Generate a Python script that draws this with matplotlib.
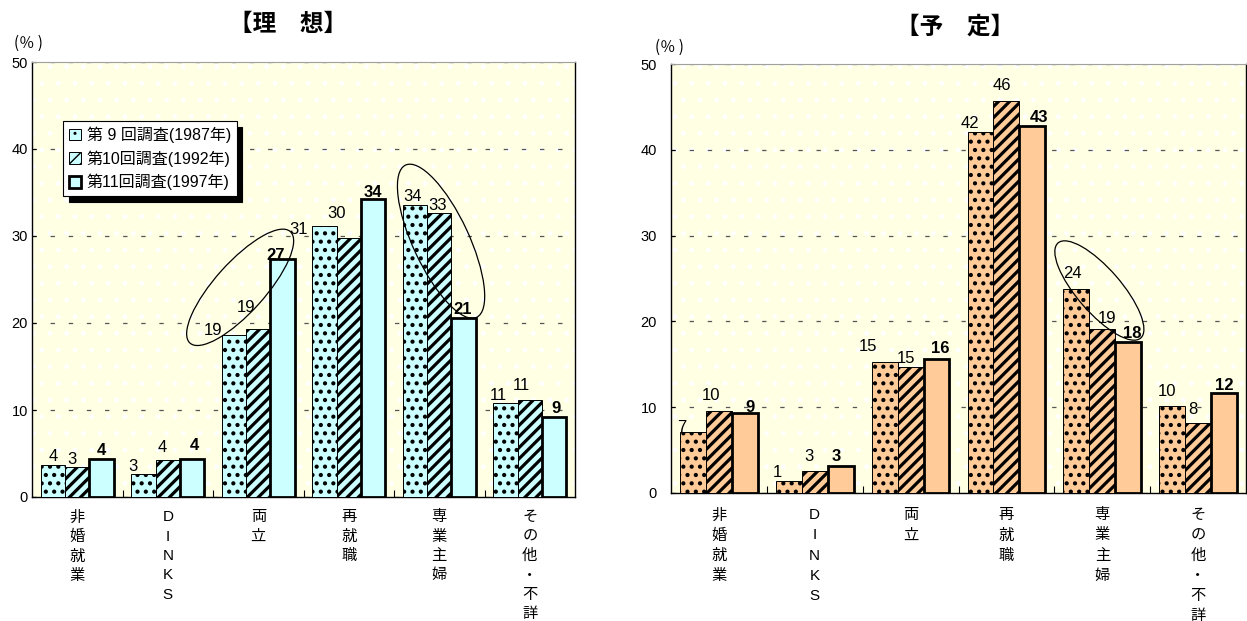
import matplotlib
matplotlib.use("Agg")
import matplotlib.pyplot as plt
from matplotlib.patches import Ellipse, Patch, Rectangle
from matplotlib.transforms import ScaledTranslation
import numpy as np

# ---------------- data ----------------
categories = ["非婚就業", "DINKS", "両立", "再就職", "専業主婦", "その他・不詳"]
series_names = ["第 9 回調査(1987年)", "第10回調査(1992年)", "第11回調査(1997年)"]

ideal_1987 = [3.7, 2.6, 18.6, 31.1, 33.6, 10.8]
ideal_1992 = [3.4, 4.2, 19.3, 29.8, 32.6, 11.1]
ideal_1997 = [4.4, 4.4, 27.3, 34.3, 20.6, 9.2]

plan_1987 = [7.1, 1.4, 15.3, 42.1, 23.8, 10.1]
plan_1992 = [9.6, 2.6, 14.7, 45.7, 19.1, 8.2]
plan_1997 = [9.3, 3.1, 15.6, 42.8, 17.6, 11.6]

y_ticks = [0, 10, 20, 30, 40, 50]
title_ideal = "【理　想】"
title_plan = "【予　定】"
unit_label = "(％ )"

# ---------------- style / layout ----------------
W, H, DPI = 1247, 621, 100
BG = "#FFFFE4"
COL_IDEAL = "#CCFFFF"
COL_PLAN = "#FFCC99"
NUMFONT = ["Liberation Sans", "Noto Sans CJK JP"]
JPFONT = ["Noto Sans CJK JP", "Liberation Sans"]

# label nudges in pixels (dx right, dy down) relative to centred-above-bar
ideal_nudges = [
    [(0, 0), (-10, 0), (-21, 3), (-26, 11), (-2, 0), (-7, 0)],
    [(-5, 0), (-6, -5), (-12, -14), (-12, -16), (-2, 0), (-8, -7)],
    [(0, 0), (2, -5), (-7, 4), (0, 2), (-1, 0), (2, 0)],
]
plan_nudges = [
    [(-11, 3), (-11, 0), (-17, -7), (-11, 0), (-4, -7), (-5, -7)],
    [(-8, -7), (-6, -6), (-5, 0), (-5, -7), (5, -3), (-5, -5)],
    [(5, 2), (-4, -2), (4, -3), (7, 0), (4, 0), (0, 0)],
]

fig = plt.figure(figsize=(W / DPI, H / DPI), dpi=DPI)
fig.patch.set_facecolor("white")


def px_rect(x0, x1, ytop, ybot):
    return [x0 / W, 1 - ybot / H, (x1 - x0) / W, (ybot - ytop) / H]


ax1 = fig.add_axes(px_rect(32, 575, 62, 497))
ax2 = fig.add_axes(px_rect(671, 1246, 64, 493))

styles = [
    dict(hatch="..", lw=0.7, hlw=1.8),
    dict(hatch="///", lw=0.7, hlw=2.3),
    dict(hatch=None, lw=2.0, hlw=1.0),
]


def draw_panel(ax, series, color, nudges, ypad, cat_offset, cat_spacing):
    ax.set_facecolor(BG)
    ax.add_patch(Rectangle((0, 0), 1, 1, transform=ax.transAxes, facecolor=BG,
                           edgecolor="white", hatch=".", lw=0, zorder=0))
    x = np.arange(len(categories))
    w = 0.27
    for k, vals in enumerate(series):
        st = styles[k]
        with plt.rc_context({"hatch.linewidth": st["hlw"]}):
            bars = ax.bar(x + (k - 1) * w, vals, w, color=color, edgecolor="black",
                          linewidth=st["lw"], hatch=st["hatch"], zorder=3)
        for b, v, (dx, dy) in zip(bars, vals, nudges[k]):
            ax.annotate(f"{v:.0f}", xy=(b.get_x() + b.get_width() / 2, v),
                        xytext=(dx * 0.72, (8 - dy) * 0.72), textcoords="offset points",
                        ha="center", va="center", fontsize=12, family=NUMFONT,
                        fontweight="bold" if k == 2 else "normal", zorder=6)
    ax.set_xlim(-0.5, len(categories) - 0.5)
    ax.set_ylim(0, 50)
    ax.set_yticks(y_ticks)
    ax.set_yticklabels([str(t) for t in y_ticks], fontsize=10.5, family=NUMFONT)
    ax.tick_params(axis="y", direction="in", length=3, pad=ypad, width=0.8)
    ax.set_xticks([])
    ax.set_xticks(np.arange(len(categories) - 1) + 0.5, minor=True)
    ax.tick_params(axis="x", which="minor", direction="in", length=5, width=0.8)
    ax.yaxis.grid(True, linestyle=(0, (3.5, 11)), color="#555555", lw=0.9)
    ax.set_axisbelow(True)
    for s in ("left", "bottom", "right"):
        ax.spines[s].set_color("black")
        ax.spines[s].set_linewidth(1.0)
    ax.spines["top"].set_color("#A0A0A0")
    ax.spines["top"].set_linewidth(0.8)
    for i, cat in enumerate(categories):
        ax.annotate("\n".join(cat), xy=(i, 0), xycoords=("data", "axes fraction"),
                    xytext=(0, cat_offset), textcoords="offset points", ha="center",
                    va="top", fontsize=11, family=NUMFONT, linespacing=cat_spacing)


def add_ellipse(ax, cx, cy, w_px, h_px, angle):
    tr = fig.dpi_scale_trans + ScaledTranslation(cx, cy, ax.transData)
    ax.add_patch(Ellipse((0, 0), w_px / DPI, h_px / DPI, angle=angle, transform=tr,
                         fill=False, edgecolor="black", lw=0.9, zorder=7, clip_on=False))


draw_panel(ax1, [ideal_1987, ideal_1992, ideal_1997], COL_IDEAL, ideal_nudges, 3, -9.5, 1.49)
draw_panel(ax2, [plan_1987, plan_1992, plan_1997], COL_PLAN, plan_nudges, 10, -11, 1.56)

add_ellipse(ax1, 1.80, 24.1, 150, 50, 48)
add_ellipse(ax1, 4.02, 29.4, 168, 56, -65)
add_ellipse(ax2, 3.97, 23.6, 126, 44, -49)

# legend
handles = []
for k in range(3):
    st = styles[k]
    with plt.rc_context({"hatch.linewidth": st["hlw"]}):
        handles.append(Patch(facecolor=COL_IDEAL, edgecolor="black",
                             linewidth=st["lw"], hatch=st["hatch"]))
leg = ax1.legend(handles, series_names, loc="upper left",
                 bbox_to_anchor=((63 - 32) / 543, (497 - 121) / 435),
                 borderaxespad=0, fancybox=False, framealpha=1, edgecolor="black",
                 prop={"family": NUMFONT, "size": 11.5}, handlelength=0.75,
                 handleheight=0.75, handletextpad=0.4, labelspacing=0.45,
                 borderpad=0.35,
                 shadow={"ox": 4, "oy": -4, "facecolor": "black",
                         "edgecolor": "black", "alpha": 1})
leg.get_frame().set_linewidth(0.8)
leg.set_zorder(8)

# titles & units
fig.text(288 / W, 1 - 24 / H, title_ideal, ha="center", va="center", fontsize=17,
         fontweight="bold", family=JPFONT)
fig.text(955 / W, 1 - 27 / H, title_plan, ha="center", va="center", fontsize=17,
         fontweight="bold", family=JPFONT)
fig.text(28 / W, 1 - 43 / H, unit_label, ha="center", va="center", fontsize=11,
         family=JPFONT)
fig.text(669 / W, 1 - 47 / H, unit_label, ha="center", va="center", fontsize=11,
         family=JPFONT)

fig.savefig("out.png", dpi=DPI, facecolor="white")
